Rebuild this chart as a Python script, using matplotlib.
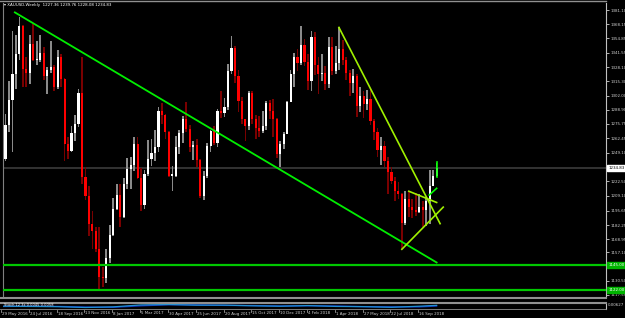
import matplotlib
matplotlib.use("Agg")
import matplotlib.pyplot as plt
from matplotlib.lines import Line2D

# weekly XAUUSD bars, first bar = week of 29 May 2016
opens = [1214, 1243, 1275, 1298, 1322, 1340, 1366, 1327, 1323, 1350, 1335, 1335, 1341, 1320, 1326, 1328,
         1310, 1338, 1317, 1257, 1251, 1267, 1276, 1304, 1227, 1209, 1183, 1177, 1160, 1134, 1133, 1152,
         1173, 1197, 1210, 1190, 1220, 1234, 1238, 1257, 1226, 1201, 1229, 1243, 1249, 1254, 1288, 1284,
         1268, 1228, 1228, 1254, 1267, 1280, 1271, 1254, 1256, 1242, 1209, 1228, 1255, 1269, 1258, 1288,
         1286, 1291, 1325, 1346, 1320, 1297, 1280, 1274, 1304, 1280, 1272, 1269, 1274, 1295, 1288, 1280,
         1248, 1257, 1266, 1296, 1322, 1338, 1332, 1349, 1333, 1315, 1356, 1330, 1322, 1323, 1313, 1347,
         1325, 1332, 1345, 1335, 1323, 1314, 1320, 1292, 1302, 1294, 1299, 1278, 1268, 1252, 1255, 1241,
         1231, 1223, 1214, 1211, 1184, 1206, 1199, 1196, 1194, 1199, 1196, 1204, 1218, 1227.36]
highs = [1244, 1285, 1315, 1362, 1358, 1375, 1367, 1338, 1358, 1368, 1352, 1358, 1347, 1328, 1352, 1330,
         1344, 1340, 1318, 1264, 1274, 1284, 1308, 1338, 1236, 1218, 1195, 1180, 1180, 1143, 1160, 1182,
         1207, 1220, 1220, 1226, 1244, 1245, 1264, 1264, 1235, 1233, 1261, 1262, 1270, 1291, 1295, 1285,
         1269, 1237, 1265, 1270, 1283, 1296, 1275, 1260, 1262, 1243, 1232, 1258, 1270, 1274, 1290, 1306,
         1300, 1331, 1357, 1348, 1326, 1301, 1280, 1306, 1306, 1284, 1283, 1288, 1297, 1298, 1299, 1281,
         1260, 1268, 1297, 1326, 1341, 1345, 1366, 1354, 1340, 1362, 1361, 1338, 1340, 1329, 1356, 1356,
         1348, 1365, 1353, 1338, 1326, 1327, 1322, 1310, 1306, 1307, 1309, 1280, 1272, 1264, 1260, 1245,
         1236, 1227, 1222, 1212, 1214, 1214, 1206, 1212, 1211, 1204, 1208, 1233, 1233, 1239.76]
lows = [1199, 1241, 1268, 1250, 1308, 1335, 1310, 1310, 1313, 1334, 1330, 1333, 1316, 1303, 1323, 1306,
        1308, 1310, 1241, 1243, 1250, 1260, 1273, 1220, 1205, 1172, 1160, 1157, 1123, 1125, 1129, 1147,
        1172, 1196, 1180, 1189, 1216, 1216, 1232, 1225, 1195, 1197, 1228, 1237, 1241, 1250, 1276, 1262,
        1227, 1214, 1227, 1248, 1258, 1268, 1250, 1242, 1236, 1207, 1205, 1226, 1250, 1256, 1254, 1281,
        1282, 1289, 1322, 1314, 1287, 1276, 1260, 1270, 1276, 1262, 1264, 1267, 1270, 1280, 1264, 1244,
        1236, 1253, 1266, 1296, 1310, 1325, 1330, 1329, 1307, 1306, 1321, 1303, 1315, 1307, 1309, 1321,
        1322, 1326, 1330, 1316, 1302, 1304, 1282, 1287, 1281, 1289, 1275, 1261, 1245, 1238, 1236, 1211,
        1220, 1204, 1206, 1160, 1182, 1190, 1189, 1191, 1193, 1180, 1181, 1183, 1218, 1226.50]
closes = [1243, 1275, 1298, 1322, 1340, 1366, 1327, 1323, 1350, 1335, 1335, 1341, 1320, 1326, 1328, 1310,
          1338, 1317, 1257, 1251, 1267, 1276, 1304, 1227, 1209, 1183, 1177, 1160, 1134, 1133, 1152, 1173,
          1197, 1210, 1190, 1220, 1234, 1238, 1257, 1226, 1201, 1229, 1243, 1249, 1254, 1288, 1284, 1268,
          1228, 1228, 1254, 1267, 1280, 1271, 1254, 1256, 1242, 1209, 1228, 1255, 1269, 1258, 1288, 1286,
          1291, 1325, 1346, 1320, 1297, 1280, 1274, 1304, 1280, 1272, 1269, 1274, 1295, 1288, 1280, 1248,
          1257, 1266, 1296, 1322, 1338, 1332, 1349, 1333, 1315, 1356, 1330, 1322, 1323, 1313, 1347, 1325,
          1332, 1345, 1335, 1323, 1314, 1320, 1292, 1302, 1294, 1299, 1278, 1268, 1252, 1255, 1241, 1231,
          1223, 1214, 1211, 1184, 1206, 1199, 1196, 1194, 1199, 1196, 1204, 1218, 1228, 1234.83]

date_labels = ["29 May 2016", "24 Jul 2016", "18 Sep 2016", "13 Nov 2016", "8 Jan 2017", "5 Mar 2017",
               "30 Apr 2017", "25 Jun 2017", "20 Aug 2017", "15 Oct 2017", "10 Dec 2017", "4 Feb 2018",
               "1 Apr 2018", "27 May 2018", "22 Jul 2018", "16 Sep 2018"]
date_idx = [0, 8, 16, 24, 32, 40, 48, 56, 64, 72, 80, 88, 96, 104, 112, 120]

price_ticks = [1381.10, 1368.15, 1354.85, 1341.55, 1328.10, 1315.30, 1302.00, 1288.90, 1275.75,
               1262.45, 1249.10, 1222.50, 1209.10, 1195.65, 1182.25, 1168.95, 1157.10, 1130.50, 1117.55]

# drawn objects (bar index, price)
trend_main = ([3.7, 125.0], [1378.9, 1147.6])
trend_steep = ([96.9, 126.0], [1365.0, 1183.5])
trend_rise = ([115.0, 126.9], [1159.8, 1198.8])
trend_flag = ([117.0, 125.0], [1213.5, 1203.1])
mark_a = ([125.0, 125.0], [1240.2, 1226.4])
mark_b = ([122.9, 125.0], [1210.0, 1216.2])
level_hi = 1145.0
level_lo = 1122.0
last_price = 1234.83

# oscillator in sub window, sampled every 8 bars
osc_x = [0, 8, 16, 24, 32, 40, 48, 56, 64, 72, 80, 88, 96, 104, 112, 120, 125]
osc_fast = [0.45, 0.40, 0.35, 0.15, 0.30, 0.75, 0.85, 0.70, 0.70, 0.55, 0.45, 0.60, 0.40, 0.35, 0.20, 0.45, 0.65]
osc_slow = [0.40, 0.45, 0.40, 0.25, 0.20, 0.55, 0.80, 0.75, 0.65, 0.60, 0.50, 0.55, 0.50, 0.35, 0.30, 0.30, 0.50]

W, H = 625, 318
PX_PER_BAR = 3.477
X0 = 2.0
FS = 2.9


def fx(px):
    return px / W


def fy(py):
    return 1 - py / H


fig = plt.figure(figsize=(W / 100, H / 100), dpi=100, facecolor="black")
ax = fig.add_axes([fx(3), fy(297), fx(603), 294 / H], facecolor="black")
ax.set_xlim((3 - X0) / PX_PER_BAR, (606 - X0) / PX_PER_BAR)
ppd = 1.0867
ax.set_ylim(1249.1 - (297 - 152) / ppd, 1249.1 + (152 - 1.5) / ppd)

n = len(closes)
for i in range(n):
    o, h, l, c = opens[i], highs[i], lows[i], closes[i]
    bull = c >= o
    wick_col = "#8a8a8a" if bull else "#7a0000"
    body_col = "white" if bull else "#ff0000"
    ax.bar(i, h - l, bottom=l, width=0.5, color=wick_col, lw=0, zorder=2)
    lo_b, hi_b = min(o, c), max(o, c)
    if hi_b - lo_b < 1.0:
        hi_b = lo_b + 1.0
    ax.bar(i, hi_b - lo_b, bottom=lo_b, width=0.62, color=body_col, lw=0, zorder=3)

ax.axhline(last_price, color="#3c3c3c", lw=1.2, zorder=1)
ax.axhline(level_hi, color="#00c800", lw=1.6, zorder=4)
ax.axhline(level_lo, color="#00c800", lw=1.6, zorder=4)
ax.plot(*trend_main, color="#00ee00", lw=1.3, zorder=5)
ax.plot(*trend_steep, color="#a0f000", lw=1.2, zorder=5)
ax.plot(*trend_rise, color="#a0f000", lw=1.2, zorder=5)
ax.plot(*trend_flag, color="#a0f000", lw=1.2, zorder=5)
ax.plot(*mark_a, color="#00ff00", lw=1.2, zorder=5)
ax.plot(*mark_b, color="#00ff00", lw=1.2, zorder=5)

for s in ["top", "bottom"]:
    ax.spines[s].set_visible(False)
ax.spines["left"].set_color("#808080")
ax.spines["right"].set_color("#c0c0c0")
ax.spines["right"].set_linewidth(0.8)
ax.set_xticks([])
ax.yaxis.tick_right()
ax.set_yticks(price_ticks)
ax.set_yticklabels([f"{v:.2f}" for v in price_ticks])
ax.tick_params(axis="y", colors="#d0d0d0", labelsize=FS, length=2, width=0.6, pad=1)

# price boxes on the right scale
box_kw = dict(transform=ax.get_yaxis_transform(), fontsize=FS, va="center", ha="left", clip_on=False)
ax.text(1.004, last_price, f"{last_price:.2f}", color="black",
        bbox=dict(boxstyle="square,pad=0.25", fc="white", ec="white"), **box_kw)
ax.text(1.004, level_hi, f"{level_hi:.2f}", color="white",
        bbox=dict(boxstyle="square,pad=0.25", fc="#00b400", ec="#00b400"), **box_kw)
ax.text(1.004, level_lo, f"{level_lo:.2f}", color="white",
        bbox=dict(boxstyle="square,pad=0.25", fc="#00b400", ec="#00b400"), **box_kw)

fig.text(fx(4), fy(5), "\u25be XAUUSD,Weekly  1227.36 1239.76 1228.08 1234.83", color="white",
         fontsize=FS, va="center", ha="left")

# top border and window separators
fig.add_artist(Line2D([fx(0), fx(606)], [fy(1.2), fy(1.2)], color="#909090", lw=1.0))
fig.add_artist(Line2D([fx(0), fx(606)], [fy(297.5), fy(297.5)], color="#909090", lw=1.5))
fig.add_artist(Line2D([fx(0), fx(606)], [fy(302.5), fy(302.5)], color="#909090", lw=1.5))

# oscillator window
sub = fig.add_axes([fx(3), fy(309), fx(603), 6 / H], facecolor="black")
sub.set_xlim(ax.get_xlim())
sub.set_ylim(-0.2, 1.2)
sub.plot(osc_x, osc_slow, color="#1030c0", lw=1.0)
sub.plot(osc_x, osc_fast, color="#2090d0", lw=0.9)
for s in ["top", "left", "bottom"]:
    sub.spines[s].set_visible(False)
sub.spines["right"].set_color("#c0c0c0")
sub.spines["right"].set_linewidth(0.8)
sub.set_xticks([])
sub.set_yticks([])
fig.text(fx(4), fy(305), "Stoch 12 3x 0.0045 0.0058", color="white", fontsize=2.6, va="center")
fig.text(fx(608), fy(305.5), "0.00627", color="#d0d0d0", fontsize=FS, va="center")
fig.add_artist(Line2D([fx(0), fx(606)], [fy(309.3), fy(309.3)], color="#909090", lw=0.6))

# date scale
for idx, lab in zip(date_idx, date_labels):
    px = X0 + idx * PX_PER_BAR - 1
    fig.add_artist(Line2D([fx(px), fx(px)], [fy(309.5), fy(312)], color="#c0c0c0", lw=0.5))
    fig.text(fx(px + 1), fy(313.5), lab, color="#d0d0d0", fontsize=FS, va="center", ha="left")

fig.savefig("out.png", dpi=100, facecolor="black")
